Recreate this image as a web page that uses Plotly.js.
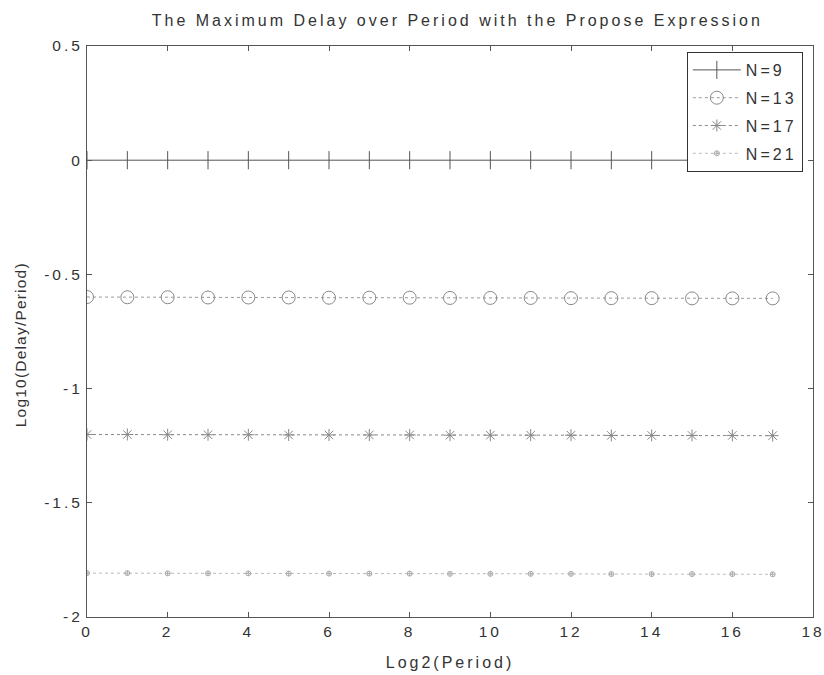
<!DOCTYPE html>
<html>
<head>
<meta charset="utf-8">
<script src="https://cdn.plot.ly/plotly-3.0.1.min.js"></script>
<style>
html,body{margin:0;padding:0;background:#fff;}
#chart{width:824px;height:675px;}
.gtitle{letter-spacing:3px;}
.xtitle{letter-spacing:3px;}
.annotation-text{letter-spacing:1.2px;}
.xtick text, .ytick text{letter-spacing:3px;}
.legendtext{letter-spacing:3px;}
</style>
</head>
<body>
<div id="chart"></div>
<script>
const log2Period = [0,1,2,3,4,5,6,7,8,9,10,11,12,13,14,15,16,17];
const seriesNames = ["N=9","N=13","N=17","N=21"];
const n9  = [0,0,0,0,0,0,0,0,0,0,0,0,0,0,0,0,0,0];
const n13 = [-0.599,-0.600,-0.600,-0.601,-0.601,-0.601,-0.602,-0.602,-0.602,-0.603,-0.603,-0.603,-0.604,-0.604,-0.604,-0.605,-0.605,-0.605];
const n17 = [-1.201,-1.201,-1.202,-1.202,-1.202,-1.203,-1.203,-1.203,-1.203,-1.204,-1.204,-1.204,-1.204,-1.205,-1.205,-1.205,-1.205,-1.206];
const n21 = [-1.808,-1.808,-1.809,-1.809,-1.809,-1.810,-1.810,-1.810,-1.810,-1.811,-1.811,-1.811,-1.811,-1.812,-1.812,-1.812,-1.812,-1.813];
const xTicks = [0,2,4,6,8,10,12,14,16,18];
const yTicks = [-2,-1.5,-1,-0.5,0,0.5];
const yTickText = ["-2","-1.5","-1","-0.5","0","0.5"];
const titleText = "The Maximum Delay over Period with the Propose Expression";
const xTitleText = "Log2(Period)";
const yTitleText = "Log10(Delay/Period)";

const FONT = "Liberation Sans, Arial, Helvetica, sans-serif";

const traces = [
  {x: log2Period, y: n9, name: seriesNames[0], legendgroup: "a", mode: "lines+markers",
   line: {color: "#555", width: 1},
   marker: {symbol: "line-ns-open", size: 13, line: {color: "#444", width: 1}}},
  {x: log2Period, y: n13, name: seriesNames[1], legendgroup: "b", mode: "lines+markers",
   line: {color: "#999", width: 1, dash: "dot"},
   marker: {symbol: "circle-open", size: 13, color: "#888", line: {color: "#888", width: 1}}},
  {x: log2Period, y: n17, name: seriesNames[2], legendgroup: "c", mode: "lines+markers",
   line: {color: "#888", width: 1, dash: "dot"},
   marker: {symbol: "asterisk-open", size: 10, line: {color: "#666", width: 1}}},
  {x: log2Period, y: n21, name: seriesNames[3], legendgroup: "d", mode: "lines+markers",
   line: {color: "#bbb", width: 1, dash: "dot"},
   marker: {symbol: "circle-cross-open", size: 5, color: "#aaa", line: {color: "#aaa", width: 1}}}
];

const axisCommon = {
  showgrid: false, zeroline: false, showline: true, linecolor: "#555", linewidth: 1,
  mirror: "ticks", ticks: "inside", ticklen: 5, tickcolor: "#555",
  ticklabeloverflow: "allow",
  tickfont: {family: FONT, size: 15.5, color: "#333"}
};

const layout = {
  width: 824, height: 675,
  margin: {l: 87, r: 11, t: 46, b: 58},
  paper_bgcolor: "#fff", plot_bgcolor: "#fff",
  title: {text: titleText,
          x: 0.555, xanchor: "center", y: 0.97, yanchor: "middle",
          font: {family: FONT, size: 16, color: "#333"}},
  xaxis: Object.assign({}, axisCommon, {range: [0, 18], tickvals: xTicks,
    title: {text: xTitleText, standoff: 18, font: {family: FONT, size: 16, color: "#333"}}}),
  yaxis: Object.assign({}, axisCommon, {range: [-2, 0.5], tickvals: yTicks, ticktext: yTickText}),
  annotations: [{
    text: yTitleText, textangle: -90, showarrow: false,
    xref: "paper", yref: "paper", x: 0, y: 0.476, xanchor: "center", yanchor: "middle",
    xshift: -67, font: {family: FONT, size: 15.5, color: "#333"}
  }],
  showlegend: true,
  legend: {x: 0.986, xanchor: "right", y: 0.9895, yanchor: "top",
    bordercolor: "#333", borderwidth: 1, bgcolor: "#fff",
    font: {family: FONT, size: 16, color: "#333"},
    itemwidth: 48,
    traceorder: "grouped", tracegroupgap: 4}
};

Plotly.newPlot("chart", traces, layout, {displayModeBar: false, staticPlot: true});
</script>
</body>
</html>
